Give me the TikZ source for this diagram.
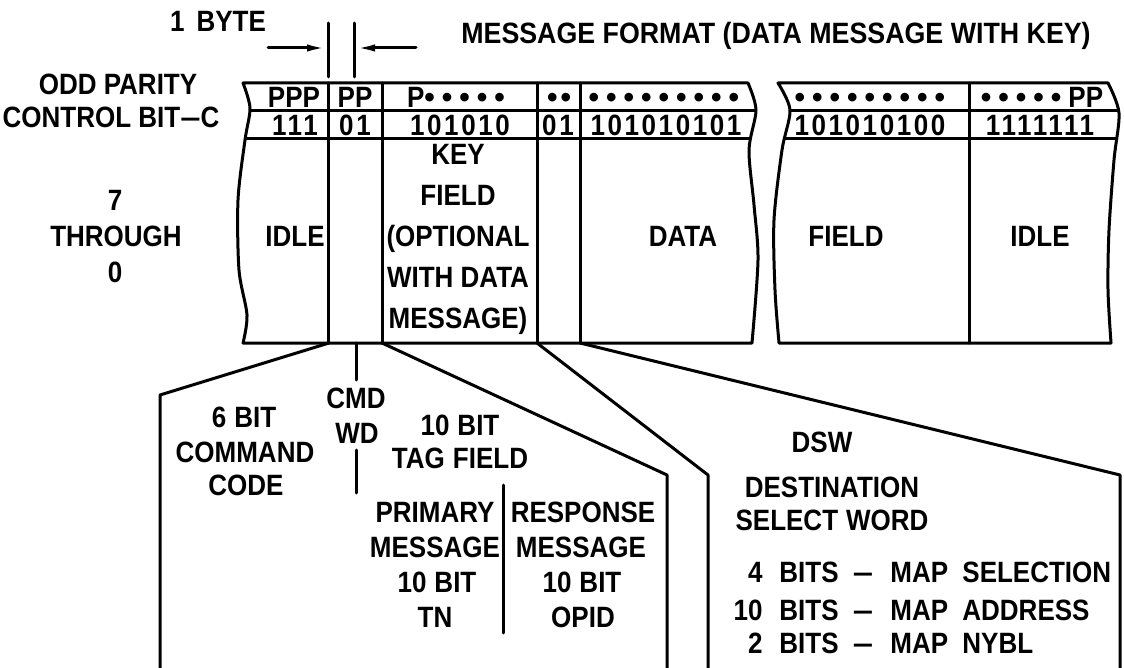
\documentclass[tikz,border=0pt]{standalone}
\usepackage{fontspec}
\usepackage{graphicx}
\setmainfont{Liberation Sans}
\usetikzlibrary{arrows.meta}
\newcommand\T[1]{\scalebox{1}[1.13]{#1}}
\newcommand\dt{{\fontsize{15}{15}\selectfont •}}
\newcommand\g{\hspace{3.5pt}}
\newcommand\ds{\scalebox{1.4}[1]{–}}
\begin{document}
\begin{tikzpicture}[x=0.5pt,y=-0.5pt,
  ln/.style={line width=1.5pt,line join=round,line cap=round},
  lbl/.style={font=\bfseries\fontsize{13}{15}\selectfont,inner sep=0pt,text height=10.5pt,text depth=0pt},
  dig/.style={lbl,font=\bfseries\fontsize{13}{15}\selectfont\addfontfeature{LetterSpace=10}},
  arr/.style={ln,-{Latex[length=10pt,width=3.6pt]}}]
\useasboundingbox (0,0) rectangle (1124,668);

% ---- table outlines ----
\draw[ln] plot[smooth] coordinates {(243,83) (250,108) (245,140) (238,200) (239,270) (247,315) (243,343)}
  -- plot[smooth] coordinates {(752,343) (758,260) (754,205) (749,150) (756,110) (748,83)} -- cycle;
\draw[ln] plot[smooth] coordinates {(778,83) (790,110) (782,150) (774,220) (775,290) (779,343)}
  -- plot[smooth] coordinates {(1111,343) (1108,290) (1109,230) (1114,160) (1119,113) (1108,83)} -- cycle;
\begin{scope}
  \clip plot[smooth] coordinates {(243,83) (250,108) (245,140) (238,200) (239,270) (247,315) (243,343)}
  -- plot[smooth] coordinates {(752,343) (758,260) (754,205) (749,150) (756,110) (748,83)} -- cycle;
  \draw[ln] (200,111) -- (800,111);
  \draw[ln] (200,139) -- (800,139);
\end{scope}
\begin{scope}
  \clip plot[smooth] coordinates {(778,83) (790,110) (782,150) (774,220) (775,290) (779,343)}
  -- plot[smooth] coordinates {(1111,343) (1108,290) (1109,230) (1114,160) (1119,113) (1108,83)} -- cycle;
  \draw[ln] (760,111) -- (1124,111);
  \draw[ln] (760,139) -- (1124,139);
\end{scope}
% column dividers
\foreach \x/\n in {328/a,382/b,537/c,580/d,969/e}{
  \coordinate (col\n t) at (\x,83);
  \coordinate (col\n b) at (\x,343);
  \draw[ln] (col\n t) -- (col\n b);
}

% ---- byte marker ----
\coordinate (v1t) at (328,23); \coordinate (v1b) at (328,77);
\coordinate (v2t) at (354,23); \coordinate (v2b) at (354,77);
\draw[ln] (v1t) -- (v1b);
\draw[ln] (v2t) -- (v2b);
\coordinate (a1s) at (268,48); \coordinate (a1e) at (327,48);
\coordinate (a2s) at (416,48); \coordinate (a2e) at (355,48);
\draw[arr] (a1s) -- (a1e);
\draw[arr] (a2s) -- (a2e);

% ---- top texts ----
\node[lbl] (byte) at (218,21) {\T{1\hspace{6pt}BYTE}};
\node[lbl] (title) at (776,33) {\scalebox{1.03}[1.13]{MESSAGE FORMAT (DATA MESSAGE WITH KEY)}};
\node[lbl] (odd) at (118,84) {\T{ODD PARITY}};
\node[lbl] (ctl) at (111,117) {\T{CONTROL BIT\ds C}};
\node[lbl] (r7) at (115,200) {\T{7}};
\node[lbl] (rth) at (116,236) {\T{THROUGH}};
\node[lbl] (r0) at (115,272) {\T{0}};

% parity row
\node[lbl] (p1) at (294,97) {\T{PPP}};
\node[lbl] (p2) at (355,97) {\T{PP}};
\node[lbl] (p3) at (456,97) {\T{P}\dt\g\dt\g\dt\g\dt\g\dt};
\node[lbl] (p4) at (559,97) {\dt\hspace{1.5pt}\dt};
\node[lbl] (p5) at (664,97) {\dt\g\dt\g\dt\g\dt\g\dt\g\dt\g\dt\g\dt\g\dt};
\node[lbl] (p6) at (870,97) {\dt\g\dt\g\dt\g\dt\g\dt\g\dt\g\dt\g\dt\g\dt};
\node[lbl] (p7) at (1042,97) {\dt\g\dt\g\dt\g\dt\g\dt\g\T{PP}};

% bit row
\node[dig] (d1) at (295,125) {\T{111}};
\node[dig] (d2) at (355,125) {\T{01}};
\node[dig] (d3) at (460,125) {\T{101010}};
\node[dig] (d4) at (558,125) {\T{01}};
\node[dig] (d5) at (666,125) {\T{101010101}};
\node[dig] (d6) at (870,125) {\T{101010100}};
\node[dig] (d7) at (1040,125) {\T{1111111}};

% body
\node[lbl] (idle1) at (295,236) {\T{IDLE}};
\node[lbl] (k1) at (458,154) {\T{KEY}};
\node[lbl] (k2) at (458,195) {\T{FIELD}};
\node[lbl] (k3) at (458,236) {\T{(OPTIONAL}};
\node[lbl] (k4) at (458,277) {\T{WITH DATA}};
\node[lbl] (k5) at (458,318) {\T{MESSAGE)}};
\node[lbl] (data) at (683,236) {\T{DATA}};
\node[lbl] (field) at (846,236) {\T{FIELD}};
\node[lbl] (idle2) at (1040,236) {\T{IDLE}};

% ---- expansion funnels ----
\coordinate (f1a) at (329,343); \coordinate (f1b) at (160,395); \coordinate (f1c) at (160,668);
\coordinate (f2a) at (382,343); \coordinate (f2b) at (667,475); \coordinate (f2c) at (667,668);
\coordinate (f3a) at (537,343); \coordinate (f3b) at (708,475); \coordinate (f3c) at (708,668);
\coordinate (f4a) at (580,343); \coordinate (f4b) at (1120,475); \coordinate (f4c) at (1120,668);
\draw[ln] (f1a) -- (f1b) -- (f1c);
\draw[ln] (f2a) -- (f2b) -- (f2c);
\draw[ln] (f3a) -- (f3b) -- (f3c);
\draw[ln] (f4a) -- (f4b) -- (f4c);

% CMD WD
\coordinate (cm1) at (356,343); \coordinate (cm2) at (356,380);
\coordinate (cm3) at (356,450); \coordinate (cm4) at (356,493);
\draw[ln] (cm1) -- (cm2);
\draw[ln] (cm3) -- (cm4);
\node[lbl] (cmd1) at (356,398) {\T{CMD}};
\node[lbl] (cmd2) at (357,433) {\T{WD}};

\node[lbl] (cc1) at (244,417) {\T{6\hspace{4pt}BIT}};
\node[lbl] (cc2) at (245,452) {\T{COMMAND}};
\node[lbl] (cc3) at (246,485) {\T{CODE}};

\node[lbl] (tg1) at (460,425) {\T{10\hspace{4pt}BIT}};
\node[lbl] (tg2) at (460,458) {\T{TAG\hspace{4pt}FIELD}};

\coordinate (dv1) at (503,485); \coordinate (dv2) at (503,633);
\draw[ln] (dv1) -- (dv2);
\node[lbl] (pr1) at (435,512) {\T{PRIMARY}};
\node[lbl] (pr2) at (435,547) {\T{MESSAGE}};
\node[lbl] (pr3) at (437,582) {\T{10\hspace{4pt}BIT}};
\node[lbl] (pr4) at (435,617) {\T{TN}};
\node[lbl] (rs1) at (583,512) {\T{RESPONSE}};
\node[lbl] (rs2) at (581,547) {\T{MESSAGE}};
\node[lbl] (rs3) at (582,582) {\T{10\hspace{4pt}BIT}};
\node[lbl] (rs4) at (583,617) {\T{OPID}};

% DSW
\node[lbl] (dsw) at (822,442) {\T{DSW}};
\node[lbl] (ds1) at (832,487) {\T{DESTINATION}};
\node[lbl] (ds2) at (832,520) {\T{SELECT\hspace{4pt}WORD}};
\foreach \y/\num/\w/\i in {572/4/SELECTION/1,610/10/ADDRESS/2,643/2/NYBL/3}{
  \node[lbl,anchor=east] (bn\i) at (763,\y) {\T{\num}};
  \node[lbl,anchor=west] (bb\i) at (779,\y) {\T{BITS}};
  \node[lbl] (bd\i) at (863,\y) {\T{\ds}};
  \node[lbl,anchor=west] (bm\i) at (890,\y) {\T{MAP}};
  \node[lbl,anchor=west] (bw\i) at (962,\y) {\T{\w}};
}
\end{tikzpicture}
\end{document}
